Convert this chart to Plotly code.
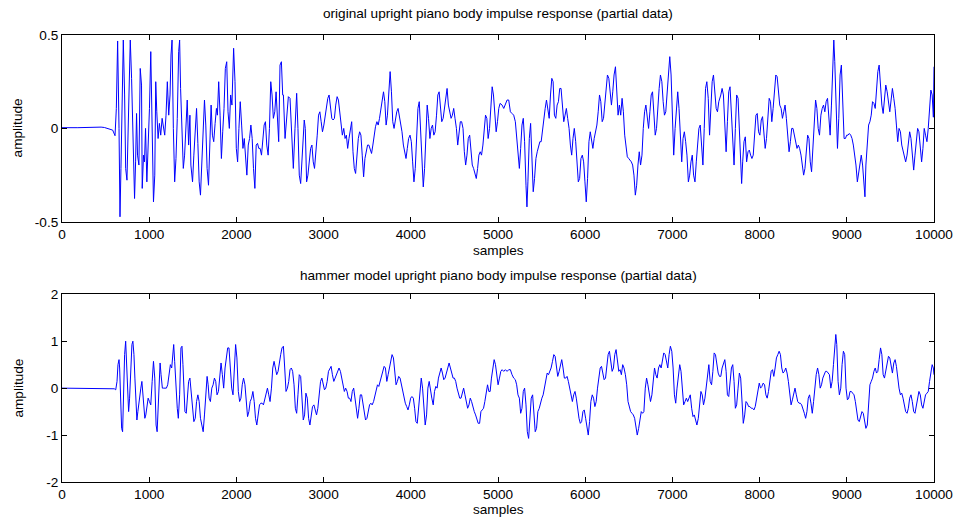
import plotly.graph_objects as go

# ---------------- original upright piano body impulse response ----------------
orig_samples_1 = [0,144,182,448,486,581,608,623,638,654,
                  665,676,688,703,718,730,745,760,771,783,
                  798,809,821,832,844,855,866,882,897,912,
                  920,935,946,958,973,988,1003,1018,1034,1049,
                  1064,1075,1087,1102,1117,1132,1148,1163,1178,1193,
                  1208,1224,1239,1250,1262,1277,1292,1307,1322,1338,
                  1349,1360,1376,1391,1406,1421,1436,1452,1467,1478,
                  1497,1512,1528,1543,1558,1573,1588,1604,1619,1634,
                  1649,1664,1680,1695,1710,1725,1740,1756,1771,1782,
                  1797,1813,1828,1843,1858,1873,1889,1904,1919,1934,
                  1949,1968,1984,1999,2014,2029,2044,2060,2075,2090,
                  2105,2120,2136,2151,2166,2181,2196,2212,2227,2242,
                  2257,2272,2288,2303,2318,2333,2348,2364,2379,2394,
                  2409,2424,2440,2455,2470,2485,2500,2516,2531]
orig_amp_1 = [0.004,0.007,0.004,0.007,0.005,-0.009,-0.039,0.107,0.468,0,
              -0.473,-0.214,0.161,0.473,0.179,-0.214,-0.277,0,0.321,0.473,
              0.268,0.071,-0.179,-0.375,-0.179,0.080,-0.143,-0.196,0.321,0.232,
              -0.321,-0.143,-0.179,0,-0.286,-0.107,0.107,0.411,0,-0.393,
              -0.25,0.25,0.089,-0.054,0.027,-0.036,0.054,0,-0.036,0.071,
              0.25,0.071,0.179,0.393,0.473,0,-0.286,-0.161,0.054,0.411,
              0.473,0.214,-0.089,-0.214,-0.143,0.036,0.152,-0.089,0.071,-0.196,
              -0.286,-0.143,0.018,0.107,-0.080,-0.286,-0.357,-0.179,0.071,0.152,
              0.018,-0.214,-0.304,-0.018,0.125,-0.036,-0.071,0.027,0.107,0.071,
              0.25,0.071,-0.161,-0.018,0.107,0.321,0.357,0.089,0,0.179,
              0.125,0.429,0.25,-0.107,-0.179,0,0.143,0.018,-0.107,-0.054,
              -0.143,-0.25,-0.089,-0.054,0.018,-0.054,-0.214,-0.321,-0.089,-0.080,
              -0.107,-0.107,-0.143,-0.054,0.018,0.036,-0.089,-0.143,0,0.25,
              0.179,0.054,0.089,0.196,0.018,-0.071,0.339,0.357,0.179]

orig_samples_2 = [2539,2558,2577,2596,2615,2634,2653,2672,2691,2706,
                  2721,2737,2752,2767,2778,2790,2805,2820,2835,2851,
                  2866,2881,2896,2911,2927,2942,2957,2972,2987,3003,
                  3018,3033,3048,3063,3079,3094,3109,3124,3139,3155,
                  3170,3185,3200,3215,3231,3246,3261,3276,3291,3307,
                  3322,3337,3352,3367,3383,3398,3413,3428,3443,3459,
                  3474,3489,3504,3519,3535,3550,3565,3580,3595,3611,
                  3626,3641,3656,3671,3687,3702,3717,3732,3747,3763,
                  3778,3793,3808,3823,3839,3854,3869,3884,3899,3915,
                  3930,3945,3960,3975,3991,4006,4021,4036,4051,4067,
                  4082,4097,4112,4127,4143,4158,4173,4188,4203,4219,
                  4234,4249,4264,4279,4295,4310,4325,4340,4355,4371,
                  4386,4401,4416,4431,4447,4462,4477,4492,4507,4523,
                  4538,4553,4568,4583,4599,4614,4629,4644,4659,4675,
                  4690,4705,4720,4735,4751,4766,4781,4796,4811,4827,
                  4842,4857,4872,4887,4903,4918,4933,4948,4963,4979,
                  4994,5009,5024]
orig_amp_2 = [0.179,-0.054,0.089,0.170,0.161,-0.036,-0.214,0,0.188,0,
              -0.25,-0.295,-0.143,0,0.045,0,-0.286,-0.25,-0.179,-0.107,
              -0.089,-0.179,-0.214,-0.143,-0.036,0.071,0.089,0.036,-0.018,0.018,
              0.071,0.125,0.161,0.179,0.125,0.054,0.045,0.054,0.125,0.170,
              0.152,0.089,0.018,-0.036,0,-0.054,-0.036,-0.107,-0.054,0,
              0.036,-0.125,-0.214,-0.241,-0.125,-0.054,-0.018,-0.036,-0.143,-0.259,
              -0.161,-0.125,-0.089,-0.089,-0.116,-0.134,-0.089,-0.036,0.009,0.036,
              0.018,0.054,0.107,0.134,0.196,0.143,0.018,0.071,0.179,0.304,
              0.196,0.036,0,0.054,0.089,0.107,0.071,0.018,-0.018,-0.089,
              -0.125,-0.161,-0.107,-0.054,-0.036,-0.071,-0.179,-0.286,-0.214,-0.054,
              0.107,0.143,0,-0.214,-0.313,-0.214,0,0.125,0.054,-0.054,
              0,0.018,-0.036,-0.018,0.071,0.179,0.196,0.089,0.036,0.054,
              0.107,0.188,0.214,0.125,0.089,0.054,0.071,0.107,0.054,0,
              -0.089,-0.036,0.036,0.036,0,-0.125,-0.196,-0.143,-0.054,-0.036,
              -0.107,-0.196,-0.214,-0.25,-0.268,-0.214,-0.143,-0.125,-0.143,-0.089,
              0,0.071,0.054,-0.054,0,0.125,0.223,0.179,0.071,-0.018,
              0.036,0.107,0.134]

orig_samples_3 = [5047,5066,5085,5104,5123,5142,5161,5180,5199,5214,
                  5229,5245,5260,5275,5290,5305,5321,5332,5343,5359,
                  5374,5389,5404,5419,5435,5450,5465,5480,5495,5511,
                  5526,5541,5556,5571,5587,5602,5617,5632,5647,5663,
                  5678,5693,5708,5723,5739,5754,5769,5784,5799,5815,
                  5830,5845,5860,5875,5891,5906,5921,5936,5951,5967,
                  5982,5997,6012,6027,6043,6058,6073,6088,6103,6119,
                  6134,6149,6164,6179,6195,6210,6225,6240,6255,6271,
                  6286,6301,6316,6331,6347,6362,6377,6392,6407,6423,
                  6438,6453,6468,6483,6499,6514,6529,6544,6559,6575,
                  6590,6605,6620,6635,6651,6666,6681,6696,6711,6727,
                  6742,6757,6772,6787,6803,6818,6833,6848,6863,6879,
                  6894,6909,6924,6939,6955,6970,6985,7000,7015,7031,
                  7046,7061,7076,7091,7107,7122,7137,7152,7167,7183,
                  7198,7213,7228,7243,7259,7274,7289,7304,7319,7335,
                  7350,7365,7380,7395,7411,7426,7441,7456,7471,7487,
                  7502,7517,7532]
orig_amp_3 = [0.125,0.107,0.134,0.152,0.152,0.089,0.080,0.071,0.036,-0.036,
              -0.143,-0.214,-0.107,0.018,0.054,-0.071,-0.304,-0.420,-0.286,-0.054,
              0.027,-0.143,-0.339,-0.268,-0.161,-0.125,-0.089,-0.071,-0.071,0,
              0.054,0.107,0.152,0.089,0.054,0.179,0.268,0.25,0.071,0.054,
              0.125,0.143,0.214,0.214,0.107,0.036,0.071,0.107,0.054,0,
              -0.089,-0.143,-0.054,0,-0.071,-0.214,-0.286,-0.268,-0.161,-0.143,
              -0.179,-0.286,-0.393,-0.268,-0.071,-0.018,-0.071,-0.107,-0.054,-0.018,
              0.018,0.089,0.179,0.143,0.036,0.054,0.125,0.223,0.286,0.268,
              0.179,0.125,0.196,0.286,0.330,0.214,0.071,0.125,0.071,0.161,
              0.089,-0.036,-0.107,-0.152,-0.161,-0.170,-0.179,-0.196,-0.25,-0.357,
              -0.304,-0.196,-0.125,-0.196,-0.143,0,0.089,0.125,0.071,0,
              0.089,0.179,0.196,0.089,-0.036,0,0.125,0.214,0.286,0.25,
              0.143,0.071,0.089,0.179,0.304,0.384,0.286,0.089,-0.143,0,
              0.107,0.196,0.107,-0.054,-0.179,-0.054,-0.018,-0.071,-0.143,-0.286,
              -0.25,-0.179,-0.143,-0.25,-0.286,-0.179,-0.071,0,0.018,-0.107,
              -0.196,0,0.214,0.25,0.161,-0.036,0.089,0.25,0.286,0.179,
              0.107,0.089,0.143]

orig_samples_4 = [7555,7570,7585,7601,7616,7631,7646,7661,7677,7692,
                  7707,7722,7737,7753,7768,7783,7794,7806,7821,7836,
                  7851,7867,7882,7897,7912,7927,7943,7958,7973,7988,
                  8003,8019,8034,8049,8064,8079,8095,8110,8125,8140,
                  8155,8171,8186,8201,8216,8231,8247,8262,8277,8292,
                  8307,8323,8338,8353,8368,8383,8399,8414,8429,8444,
                  8459,8475,8490,8505,8520,8535,8551,8566,8581,8596,
                  8611,8627,8642,8657,8672,8687,8703,8718,8733,8748,
                  8763,8779,8794,8809,8824,8839,8851,8862,8877,8893,
                  8908,8923,8938,8953,8969,8984,8999,9014,9029,9045,
                  9060,9075,9090,9105,9121,9136,9151,9166,9181,9197,
                  9208,9219,9235,9250,9265,9280,9295,9311,9326,9341,
                  9356,9371,9387,9402,9417,9432,9447,9463,9478,9493,
                  9508,9523,9539,9554,9569,9584,9599,9615,9630,9645,
                  9660,9675,9691,9706,9721,9736,9751,9767,9782,9797,
                  9812,9827,9843,9858,9873,9888,9903,9919,9934,9949,
                  9964,9979,9993,10000]
orig_amp_4 = [0.179,0.214,0.179,0,-0.125,0.036,0.196,0.223,0.071,-0.107,
              -0.196,0,0.179,0.161,0,-0.25,-0.295,-0.179,-0.071,-0.045,
              -0.179,-0.125,-0.116,-0.143,-0.161,-0.143,-0.054,0.071,0.080,-0.018,
              -0.036,0.045,0.063,-0.018,-0.107,-0.054,0.071,0.161,0.143,0.036,
              0.107,0.214,0.286,0.277,0.179,0.125,0.107,0.054,0.089,0.125,
              0.054,-0.071,-0.125,-0.071,0,0,-0.036,-0.089,-0.107,-0.089,
              -0.107,-0.143,-0.196,-0.25,-0.214,-0.143,-0.036,-0.054,-0.179,-0.232,
              -0.089,0.071,0.152,0.107,0,-0.036,0.071,0.107,0.125,0.089,
              0.143,0.161,0.071,-0.036,0.125,0.339,0.473,0.357,0.054,-0.107,
              0.054,0.286,0.339,0.179,-0.054,-0.054,-0.036,-0.036,-0.027,-0.036,
              -0.054,-0.089,-0.143,-0.196,-0.286,-0.232,-0.179,-0.143,-0.196,-0.321,
              -0.366,-0.196,-0.054,0.018,0.036,0.071,0.143,0.134,0.107,0.196,
              0.304,0.339,0.214,0.125,0.080,0.143,0.232,0.196,0.143,0.089,
              0.152,0.214,0.161,0.107,0.018,-0.071,0,-0.018,-0.089,-0.125,
              -0.161,-0.179,-0.143,-0.071,-0.018,-0.054,-0.161,-0.223,-0.143,-0.054,
              0,-0.018,-0.107,-0.179,-0.107,0,-0.036,-0.071,0,0.125,
              0.205,0.179,0.06,0.33]

# ---------------- hammer model upright piano body impulse response ----------------
hammer_samples_1 = [0,581,600,616,631,642,654,661,673,684,
                    695,707,718,730,741,752,764,775,787,802,
                    813,825,836,847,859,870,882,893,904,916,
                    927,939,950,961,973,988,1003,1018,1034,1049,
                    1064,1079,1091,1102,1113,1125,1136,1151,1167,1182,
                    1197,1212,1227,1243,1258,1269,1281,1292,1307,1322,
                    1334,1349,1364,1376,1387,1398,1410,1425,1436,1452,
                    1467,1482,1497,1512,1528,1543,1558,1573,1588,1604,
                    1619,1634,1649,1664,1676,1687,1702,1718,1733,1748,
                    1763,1778,1794,1809,1824,1839,1854,1870,1885,1900,
                    1915,1930,1946,1961,1976,1991,2006,2022,2037,2052,
                    2067,2082,2098,2113,2128,2143,2158,2174,2189,2204,
                    2219,2234,2250,2265,2280,2295,2310,2326,2341,2356,
                    2371,2386,2402,2417,2432,2447,2462,2478,2493,2508,
                    2523]
hammer_amp_1 = [0,0,-0.014,-0.036,0.143,0.5,0.607,0.429,-0.571,-0.857,
                -0.929,0,0.714,1.0,0.357,-0.286,-0.5,-0.214,0.5,0.929,
                1.0,0.714,0.214,-0.429,-0.679,-0.5,-0.286,-0.143,0,0.143,
                -0.071,-0.357,-0.643,-0.571,-0.429,-0.214,-0.286,-0.357,0.143,0.571,
                0.214,-0.786,-0.929,-0.429,0.143,0.536,0.286,0,0,0,
                0,0.071,0.286,0.5,0.429,0.714,0.929,0.571,0,-0.429,
                -0.643,-0.143,0.857,0.893,0.5,-0.143,-0.5,-0.536,-0.214,0.143,
                0.214,-0.143,-0.5,-0.714,-0.643,-0.286,-0.143,-0.286,-0.643,-0.786,
                -0.929,-0.571,-0.071,0.25,0.071,-0.214,-0.286,0,0.071,0.214,
                0.143,-0.143,-0.071,0.286,0.536,0.286,0,0.429,0.643,0.857,
                0.857,0.429,0,-0.143,0.357,0.929,0.643,-0.071,-0.286,-0.214,
                0.071,0.214,0.071,-0.357,-0.607,-0.5,-0.286,-0.214,-0.071,-0.286,
                -0.643,-0.786,-0.571,-0.357,-0.321,-0.321,-0.357,-0.214,-0.071,0,
                -0.143,-0.286,0,0.429,0.571,0.429,0.286,0.357,0.571,0.714,
                0.857]

hammer_samples_2 = [2539,2554,2569,2585,2600,2615,2630,2645,2661,2676,
                    2691,2706,2721,2737,2752,2767,2782,2797,2813,2828,
                    2843,2858,2873,2889,2904,2919,2934,2949,2965,2980,
                    2995,3010,3025,3041,3056,3071,3086,3101,3117,3132,
                    3147,3162,3177,3193,3208,3223,3238,3253,3269,3284,
                    3299,3314,3329,3345,3360,3375,3390,3405,3421,3436,
                    3451,3466,3481,3497,3512,3527,3542,3557,3573,3588,
                    3603,3618,3633,3649,3664,3679,3694,3709,3725,3740,
                    3755,3770,3785,3801,3816,3831,3846,3861,3877,3892,
                    3907,3922,3937,3953,3968,3983,3998,4013,4029,4044,
                    4059,4074,4089,4105,4120,4135,4150,4165,4181,4196,
                    4211,4226,4241,4257,4272,4287,4302,4317,4333,4348,
                    4363,4378,4393,4409,4424,4439,4454,4469,4485,4500,
                    4515,4530,4545,4561,4576,4591,4606,4621,4637,4652,
                    4667,4682,4697,4713,4728,4743,4758,4773,4789,4804,
                    4819,4834,4849,4865,4880,4895,4910,4925,4941,4956,
                    4971,4986,5001,5017,5032]
hammer_amp_2 = [0.893,0.429,-0.071,0,0.143,0.393,0.429,0.357,0.071,-0.429,
                -0.536,-0.143,0.286,0.25,-0.214,-0.679,-0.571,-0.107,-0.214,-0.643,
                -0.786,-0.607,-0.393,-0.357,-0.464,-0.571,-0.429,-0.143,0.143,0.214,
                0.071,-0.036,0,0.143,0.357,0.429,0.464,0.286,0.143,0.214,
                0.286,0.357,0.429,0.357,0.214,0.071,-0.071,0,-0.071,-0.214,
                -0.214,-0.286,-0.071,0,-0.214,-0.5,-0.643,-0.429,-0.143,-0.143,
                -0.357,-0.571,-0.679,-0.643,-0.5,-0.357,-0.321,-0.357,-0.286,-0.143,
                0,0.071,0.036,0.143,0.214,0.357,0.464,0.429,0.143,0.286,
                0.429,0.571,0.714,0.643,0.286,0.071,0.143,0.25,0.214,0.071,
                -0.071,-0.214,-0.321,-0.393,-0.464,-0.357,-0.214,-0.179,-0.214,-0.429,
                -0.714,-0.75,-0.429,0.071,0.214,0,-0.5,-0.786,-0.571,0,
                0.143,-0.071,-0.214,-0.357,-0.071,0.036,0,0.214,0.357,0.429,
                0.321,0.179,0.214,0.357,0.429,0.536,0.429,0.286,0.214,0.214,
                0.143,0,-0.143,-0.214,-0.214,-0.071,0,-0.143,-0.286,-0.429,
                -0.357,-0.214,-0.286,-0.429,-0.5,-0.571,-0.679,-0.75,-0.75,-0.5,
                -0.464,-0.429,-0.286,-0.071,0.071,-0.071,-0.071,0.214,0.429,0.607,
                0.5,0.214,0.071,0.214,0.357]

hammer_samples_3 = [5047,5066,5085,5104,5123,5142,5161,5180,5199,5214,
                    5229,5245,5260,5275,5290,5305,5321,5336,5351,5366,
                    5381,5397,5412,5427,5442,5457,5473,5488,5503,5518,
                    5533,5549,5564,5579,5594,5609,5625,5640,5655,5670,
                    5685,5701,5716,5731,5746,5761,5777,5792,5807,5822,
                    5837,5853,5868,5883,5898,5913,5929,5944,5959,5974,
                    5989,6005,6020,6035,6050,6065,6081,6096,6111,6126,
                    6141,6157,6172,6187,6202,6217,6233,6248,6263,6278,
                    6293,6309,6324,6339,6354,6369,6385,6400,6415,6430,
                    6445,6461,6476,6491,6506,6521,6537,6552,6567,6582,
                    6597,6613,6628,6643,6658,6673,6689,6704,6719,6734,
                    6749,6765,6780,6795,6810,6825,6841,6856,6871,6886,
                    6901,6917,6932,6947,6962,6977,6993,7008,7023,7038,
                    7053,7069,7084,7099,7114,7129,7145,7160,7175,7190,
                    7205,7221,7236,7251,7266,7281,7297,7312,7327,7342,
                    7357,7373,7388,7403,7418,7433,7449,7464,7479,7494,
                    7509,7525,7540]
hammer_amp_3 = [0.393,0.357,0.393,0.357,0.393,0.393,0.286,0.214,0.179,0.071,
                -0.143,-0.214,-0.536,-0.429,-0.071,0,-0.357,-0.929,-1.071,-0.714,
                -0.214,-0.143,-0.571,-0.929,-0.857,-0.5,-0.429,-0.286,-0.214,-0.143,
                0,0.214,0.321,0.286,0.357,0.429,0.571,0.714,0.679,0.429,
                0.25,0.357,0.5,0.607,0.429,0.214,0.214,0.25,0.143,0,
                -0.143,-0.286,-0.143,-0.071,-0.214,-0.5,-0.643,-0.75,-0.714,-0.5,
                -0.464,-0.643,-0.857,-1.0,-0.714,-0.286,-0.143,-0.214,-0.393,-0.286,
                0,0.214,0.429,0.464,0.286,0.179,0.214,0.429,0.714,0.786,
                0.536,0.357,0.429,0.714,0.821,0.571,0.357,0.393,0.286,0.5,
                0.429,0.286,0.071,-0.286,-0.393,-0.5,-0.536,-0.571,-0.643,-0.786,
                -1.0,-0.857,-0.643,-0.5,-0.536,-0.5,0,0.214,0.071,-0.143,
                -0.286,-0.143,0.143,0.429,0.286,0.214,0.429,0.5,0.429,0.607,
                0.75,0.714,0.571,0.429,0.714,0.893,0.786,0.429,-0.143,-0.321,
                0,0.357,0.5,0.357,-0.143,-0.357,-0.286,-0.214,-0.286,-0.214,
                -0.143,-0.429,-0.607,-0.571,-0.679,-0.786,-0.643,-0.357,-0.071,-0.143,
                -0.357,-0.214,0.071,0.357,0.5,0.143,0.071,0.357,0.75,0.714,
                0.5,0.321,0.25]

hammer_samples_4 = [7555,7570,7585,7601,7616,7631,7646,7661,7677,7692,
                    7707,7722,7737,7753,7768,7783,7798,7813,7829,7844,
                    7859,7874,7889,7905,7920,7935,7950,7965,7981,7996,
                    8011,8026,8041,8057,8072,8087,8102,8117,8133,8148,
                    8163,8178,8193,8209,8224,8239,8254,8269,8285,8300,
                    8315,8330,8345,8361,8376,8391,8406,8421,8437,8452,
                    8467,8482,8497,8513,8528,8543,8558,8573,8589,8604,
                    8619,8634,8649,8665,8680,8695,8710,8725,8741,8756,
                    8771,8786,8801,8817,8832,8847,8862,8874,8885,8900,
                    8915,8931,8946,8961,8976,8991,9007,9022,9037,9052,
                    9067,9083,9098,9113,9128,9143,9159,9174,9189,9204,
                    9219,9235,9250,9265,9280,9295,9311,9326,9341,9356,
                    9371,9387,9402,9417,9432,9447,9463,9478,9493,9508,
                    9523,9539,9554,9569,9584,9599,9615,9630,9645,9660,
                    9675,9691,9706,9721,9736,9751,9767,9782,9797,9812,
                    9827,9843,9858,9873,9888,9903,9919,9934,9949,9964,
                    9979,9993,10000]
hammer_amp_4 = [0.25,0.429,0.536,0.607,0.357,-0.143,-0.179,0.143,0.429,0.5,
                0.143,-0.429,-0.357,0,0.321,0.214,-0.214,-0.75,-0.571,-0.286,
                -0.321,-0.393,-0.393,-0.429,-0.429,-0.464,-0.393,-0.214,0,0.107,
                0,0.036,0.107,0.071,-0.143,-0.214,-0.071,0.143,0.357,0.393,
                0.25,0.429,0.643,0.714,0.786,0.714,0.429,0.321,0.357,0.429,
                0.321,0.143,-0.143,-0.357,-0.25,-0.143,0,-0.143,-0.286,-0.321,
                -0.321,-0.357,-0.429,-0.536,-0.643,-0.5,-0.214,-0.143,-0.321,-0.536,
                -0.286,0,0.286,0.429,0.286,0,0.071,0.214,0.286,0.357,
                0.357,0.321,0.286,0,0.143,0.5,0.857,1.143,0.929,0.143,
                -0.143,0,0.5,0.786,0.714,0,-0.25,-0.214,-0.071,-0.071,
                -0.107,-0.143,-0.286,-0.5,-0.679,-0.714,-0.571,-0.5,-0.536,-0.679,
                -0.857,-0.786,-0.286,0.071,0.143,0.214,0.357,0.429,0.321,0.357,
                0.607,0.857,0.714,0.286,0.214,0.393,0.571,0.679,0.643,0.5,
                0.321,0.536,0.607,0.464,0.214,0,-0.143,-0.107,-0.214,-0.357,
                -0.5,-0.536,-0.429,-0.214,-0.143,-0.286,-0.5,-0.536,-0.357,-0.214,
                -0.071,-0.143,-0.357,-0.429,-0.286,-0.143,-0.107,-0.071,0.143,0.393,
                0.5,0.429,0.286]

x_ticks = [0, 1000, 2000, 3000, 4000, 5000, 6000, 7000, 8000, 9000, 10000]
top_y_ticks = [-0.5, 0, 0.5]
bottom_y_ticks = [-2, -1, 0, 1, 2]

top_title = "original upright piano body impulse response (partial data)"
bottom_title = "hammer model upright piano body impulse response (partial data)"

orig_x = orig_samples_1 + orig_samples_2 + orig_samples_3 + orig_samples_4
orig_y = orig_amp_1 + orig_amp_2 + orig_amp_3 + orig_amp_4
ham_x = hammer_samples_1 + hammer_samples_2 + hammer_samples_3 + hammer_samples_4
ham_y = hammer_amp_1 + hammer_amp_2 + hammer_amp_3 + hammer_amp_4
n1 = min(len(orig_x), len(orig_y))
n2 = min(len(ham_x), len(ham_y))

FONT = "Arial, 'Liberation Sans', Helvetica, sans-serif"
FS = 13.6
BLUE = "#0000ff"

fig = go.Figure()
fig.add_trace(go.Scatter(x=orig_x[:n1], y=orig_y[:n1], mode="lines",
                         line=dict(color=BLUE, width=1), xaxis="x", yaxis="y",
                         showlegend=False, hoverinfo="skip"))
fig.add_trace(go.Scatter(x=ham_x[:n2], y=ham_y[:n2], mode="lines",
                         line=dict(color=BLUE, width=1), xaxis="x2", yaxis="y2",
                         showlegend=False, hoverinfo="skip"))

axis_common = dict(showline=True, linecolor="black", linewidth=1, mirror="ticks",
                   ticks="inside", ticklen=5, tickwidth=1, tickcolor="black",
                   showgrid=False, zeroline=False,
                   tickfont=dict(family=FONT, size=FS, color="black"))

fig.update_layout(
    width=965, height=522,
    margin=dict(l=62, r=24, t=35, b=40),
    paper_bgcolor="white", plot_bgcolor="white",
    font=dict(family=FONT, size=FS, color="black"),
    xaxis=dict(domain=[0, 1], anchor="y", range=[0, 10000], tickvals=x_ticks,
               ticktext=[str(v) for v in x_ticks], **axis_common),
    yaxis=dict(domain=[0.582, 1], anchor="x", range=[-0.5, 0.5], tickvals=top_y_ticks,
               ticktext=["-0.5", "0", "0.5"], **axis_common),
    xaxis2=dict(domain=[0, 1], anchor="y2", range=[0, 10000], tickvals=x_ticks,
                ticktext=[str(v) for v in x_ticks], **axis_common),
    yaxis2=dict(domain=[0, 0.42], anchor="x2", range=[-2, 2], tickvals=bottom_y_ticks,
                ticktext=[str(v) for v in bottom_y_ticks], **axis_common),
    annotations=[
        dict(text=top_title, x=0.5, y=1.047, xref="paper", yref="paper",
             showarrow=False, xanchor="center", yanchor="middle", font=dict(size=FS)),
        dict(text=bottom_title, x=0.5, y=0.461, xref="paper", yref="paper",
             showarrow=False, xanchor="center", yanchor="middle", font=dict(size=FS)),
        dict(text="samples", x=0.5, y=0.519, xref="paper", yref="paper",
             showarrow=False, xanchor="center", yanchor="middle", font=dict(size=FS)),
        dict(text="samples", x=0.5, y=-0.061, xref="paper", yref="paper",
             showarrow=False, xanchor="center", yanchor="middle", font=dict(size=FS)),
        dict(text="amplitude", x=-0.05, y=0.792, xref="paper", yref="paper",
             showarrow=False, xanchor="center", yanchor="middle", textangle=-90,
             font=dict(size=FS)),
        dict(text="amplitude", x=-0.05, y=0.21, xref="paper", yref="paper",
             showarrow=False, xanchor="center", yanchor="middle", textangle=-90,
             font=dict(size=FS)),
    ],
)

fig.write_html("out.html")
